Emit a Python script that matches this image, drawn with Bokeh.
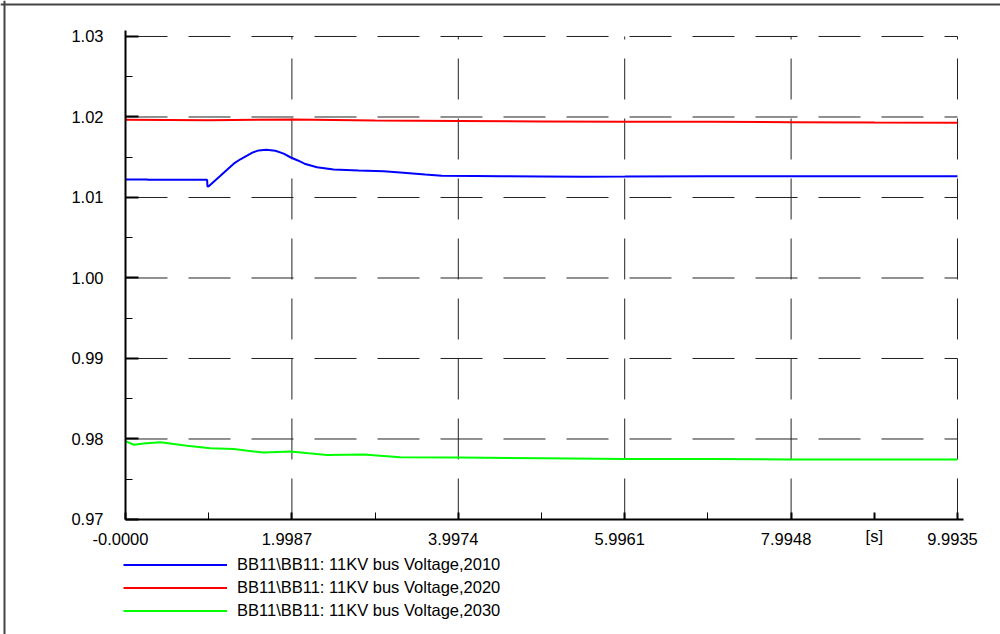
from bokeh.plotting import figure
from bokeh.models import Range1d, FixedTicker, Legend, LegendItem, Span, LinearAxis
from bokeh.embed import file_html
from bokeh.resources import INLINE

# ---- data ----
t_2010 = [0.0, 0.26, 0.27, 0.98, 0.985, 1.0, 1.07, 1.14, 1.22, 1.3, 1.38, 1.46, 1.53, 1.6,
          1.69, 1.8, 1.9, 1.98, 2.07, 2.15, 2.3, 2.5, 2.8, 3.1, 3.3, 3.6, 3.8, 4.2, 4.5,
          5.0, 5.5, 6.0, 7.0, 8.0, 9.0, 9.9935]
v_2010 = [1.01225, 1.01225, 1.0122, 1.0122, 1.01135, 1.0114, 1.01205, 1.0127, 1.01345, 1.0142,
          1.01475, 1.0152, 1.0156, 1.01585, 1.01593, 1.0158, 1.01545, 1.0150, 1.0146, 1.0142,
          1.01376, 1.01348, 1.01335, 1.01325, 1.0131, 1.01285, 1.0127, 1.01268, 1.01265,
          1.01262, 1.01258, 1.0126, 1.01265, 1.01265, 1.01265, 1.01265]

t_2020 = [0.0, 1.0, 2.0, 3.0, 4.0, 5.0, 6.0, 7.0, 8.0, 9.0, 9.9935]
v_2020 = [1.01965, 1.0196, 1.0197, 1.01955, 1.0195, 1.01945, 1.0194, 1.0194, 1.01935, 1.01932, 1.0193]

t_2030 = [0.0, 0.1, 0.25, 0.42, 0.58, 0.74, 1.02, 1.3, 1.66, 1.98, 2.2, 2.42, 2.86, 3.3, 4.0,
          5.0, 6.0, 7.0, 8.0, 9.0, 9.9935]
v_2030 = [0.97973, 0.97929, 0.97948, 0.9796, 0.97938, 0.97915, 0.97886, 0.97875, 0.97832,
          0.97845, 0.97822, 0.978, 0.97807, 0.97774, 0.9777, 0.9776, 0.9775, 0.97752,
          0.97745, 0.97745, 0.97745]

series_names = ["BB11\\BB11: 11KV bus Voltage,2010",
                "BB11\\BB11: 11KV bus Voltage,2020",
                "BB11\\BB11: 11KV bus Voltage,2030"]
series_colors = ["#0000ff", "#ff0000", "#00ff00"]

x_ticks = [0.0, 1.9987, 3.9974, 5.9961, 7.9948, 9.9935]
x_tick_labels = ["-0.0000", "1.9987", "3.9974", "5.9961", "7.9948", "9.9935"]
x_minor = [0.99935, 2.99805, 4.99675, 6.99545]
unit_pos = 8.99415
unit_label = "[s]"

y_ticks = [0.97, 0.98, 0.99, 1.00, 1.01, 1.02, 1.03]
y_tick_labels = ["0.97", "0.98", "0.99", "1.00", "1.01", "1.02", "1.03"]
y_minor = [0.975, 0.985, 0.995, 1.005, 1.015, 1.025]

FONT = "Liberation Sans"
FSIZE = "16.5px"

# view window (whole canvas is the plotting frame; axes sit at fixed positions)
W, H = 1000, 634
X_VIEW = (-1.50143, 10.51000)
Y_VIEW = (0.955714, 1.034472)
X_AXIS_END = 10.066
Y_AXIS_END = 1.030745
PX_X = W / (X_VIEW[1] - X_VIEW[0])
PX_Y = H / (Y_VIEW[1] - Y_VIEW[0])
LABEL_SHIFT = 5 / PX_X          # numeric x labels sit 5px left of their ticks
BORDER_OFF = 4                  # outer frame line, px from the top/left edge

p = figure(width=W, height=H, output_backend="svg", toolbar_location=None,
           x_range=Range1d(*X_VIEW), y_range=Range1d(*Y_VIEW),
           min_border_left=0, min_border_right=0, min_border_top=0, min_border_bottom=0,
           background_fill_color="white", border_fill_color="white")
p.outline_line_color = None
p.xgrid.visible = False
p.ygrid.visible = False
p.extra_x_ranges = {"labels": Range1d(X_VIEW[0] + LABEL_SHIFT, X_VIEW[1] + LABEL_SHIFT)}

# outer frame lines (top and left of the picture)
p.add_layout(Span(location=Y_VIEW[1] - BORDER_OFF / PX_Y, dimension="width",
                  line_color="#444444", line_width=2))
p.add_layout(Span(location=X_VIEW[0] + BORDER_OFF / PX_X, dimension="height",
                  line_color="#444444", line_width=2))

# dashed grid (from tick arrays)
gy = y_ticks[1:]
p.segment(x0=[x_ticks[0]] * len(gy), y0=gy, x1=[x_ticks[-1]] * len(gy), y1=gy,
          line_color="#222222", line_width=1, line_dash="42 21")
gx = x_ticks[1:]
p.segment(x0=gx, y0=[y_ticks[0]] * len(gx), x1=gx, y1=[y_ticks[-1]] * len(gx),
          line_color="#222222", line_width=1, line_dash="41 19")

# x axis: line, ticks and the unit label
xa = p.xaxis[0]
xa.fixed_location = y_ticks[0]
xa.bounds = (x_ticks[0], X_AXIS_END)
xa.ticker = FixedTicker(ticks=x_ticks + [unit_pos], minor_ticks=x_minor)
ov = {x: "" for x in x_ticks}
ov[unit_pos] = unit_label
xa.major_label_overrides = ov
xa.major_tick_in = 7
xa.major_tick_out = 0
xa.minor_tick_in = 7
xa.minor_tick_out = 0
xa.major_label_standoff = 8

# x axis numeric labels (same ticks, drawn through a 5px-shifted range)
xl = LinearAxis(x_range_name="labels", fixed_location=y_ticks[0],
                ticker=FixedTicker(ticks=x_ticks, minor_ticks=[]),
                major_label_overrides={x: l for x, l in zip(x_ticks, x_tick_labels)},
                axis_line_color=None, major_tick_line_color=None, minor_tick_line_color=None,
                major_tick_in=7, major_tick_out=0, minor_tick_in=0, minor_tick_out=0,
                major_label_standoff=14)
p.add_layout(xl, "below")

ya = p.yaxis[0]
ya.fixed_location = x_ticks[0]
ya.bounds = (y_ticks[0], Y_AXIS_END)
ya.ticker = FixedTicker(ticks=y_ticks, minor_ticks=y_minor)
ya.major_label_overrides = {y: l for y, l in zip(y_ticks, y_tick_labels)}
ya.major_tick_in = 13
ya.major_tick_out = 0
ya.minor_tick_in = 7
ya.minor_tick_out = 0
ya.major_label_standoff = 22

for a in (xa, xl, ya):
    a.major_label_text_font = FONT
    a.major_label_text_font_size = FSIZE
    a.major_label_text_color = "black"
for a in (xa, ya):
    a.axis_line_width = 2
    a.axis_line_color = "black"
    a.major_tick_line_color = "black"
    a.major_tick_line_width = 2
    a.minor_tick_line_color = "black"
    a.minor_tick_line_width = 1

# series
renderers = []
for t, v, c in ((t_2010, v_2010, series_colors[0]),
                (t_2020, v_2020, series_colors[1]),
                (t_2030, v_2030, series_colors[2])):
    renderers.append(p.line(t, v, line_color=c, line_width=2))

legend = Legend(items=[LegendItem(label=n, renderers=[r]) for n, r in zip(series_names, renderers)],
                location=(123, 11.8), orientation="vertical",
                glyph_width=104, glyph_height=23, label_height=23, spacing=0,
                padding=0, margin=0, label_standoff=10,
                label_text_font=FONT, label_text_font_size=FSIZE, label_text_color="black",
                border_line_color=None, background_fill_alpha=0)
p.add_layout(legend, "center")

open("out.html", "w").write(file_html(p, INLINE))
